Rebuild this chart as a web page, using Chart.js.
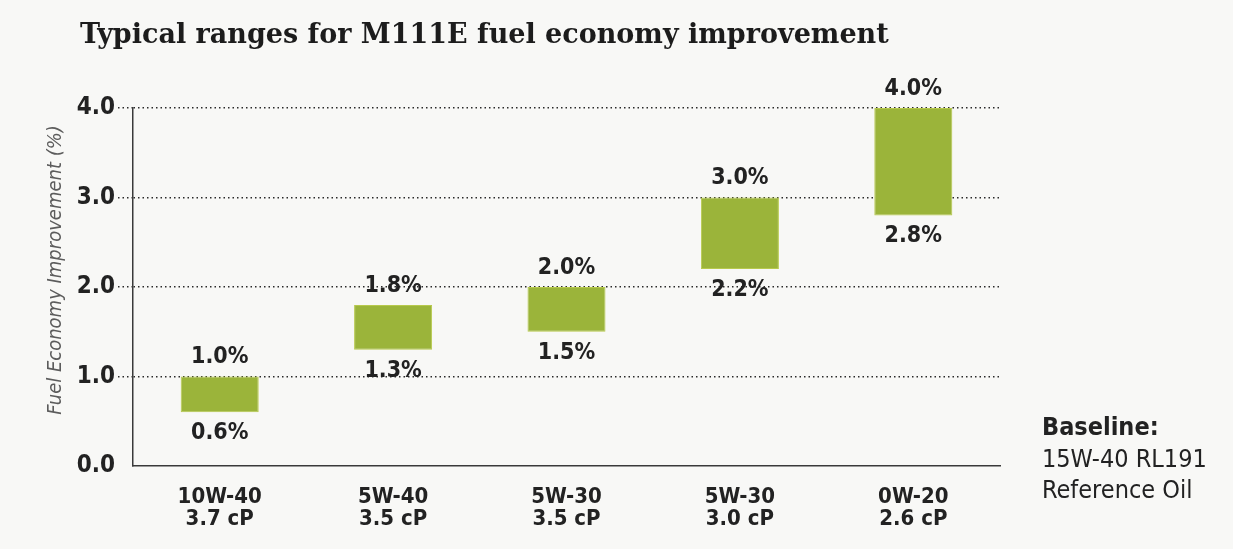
<!DOCTYPE html>
<html>
<head>
<meta charset="utf-8">
<script src="https://cdn.jsdelivr.net/npm/chart.js@4/dist/chart.umd.min.js"></script>
<style>
    html, body { margin: 0; padding: 0; background: #f8f8f6; }
    #wrap { width: 1233px; height: 549px; position: relative; }
</style>
</head>
<body>
<div id="wrap"><canvas id="chart" width="1233" height="549"></canvas></div>
<script>
const TITLE = 'Typical ranges for M111E fuel economy improvement';
const Y_TITLE = 'Fuel Economy Improvement (%)';
const OILS = ['10W-40', '5W-40', '5W-30', '5W-30', '0W-20'];
const VISCOSITY = ['3.7 cP', '3.5 cP', '3.5 cP', '3.0 cP', '2.6 cP'];
const LOW = [0.6, 1.3, 1.5, 2.2, 2.8];
const HIGH = [1.0, 1.8, 2.0, 3.0, 4.0];
const Y_TICKS = [0, 1, 2, 3, 4];
const BASELINE = ['Baseline:', '15W-40 RL191', 'Reference Oil'];

const NARROW = '"Liberation Sans Narrow", "DejaVu Sans Condensed", Arial, sans-serif';
const GREEN = '#9bb43a';
const INK = '#222222';

// labels above / below each bar plus title and the baseline note
const extraText = {
    id: 'extraText',
    afterDatasetsDraw(chart) {
        const ctx = chart.ctx;
        const meta = chart.getDatasetMeta(0);
        ctx.save();
        ctx.fillStyle = INK;
        ctx.textAlign = 'center';
        ctx.textBaseline = 'middle';
        ctx.font = 'bold 23px ' + NARROW;
        meta.data.forEach((bar, i) => {
            const top = Math.min(bar.y, bar.base);
            const bottom = Math.max(bar.y, bar.base);
            ctx.fillText(HIGH[i].toFixed(1) + '%', bar.x, top - 19);
            ctx.fillText(LOW[i].toFixed(1) + '%', bar.x, bottom + 21);
        });

        // title, shrunk until it fits its width in the original
        let size = 32;
        ctx.font = 'bold ' + size + 'px "DejaVu Serif", serif';
        while (ctx.measureText(TITLE).width > 810 && size > 10) {
            size -= 0.25;
            ctx.font = 'bold ' + size + 'px "DejaVu Serif", serif';
        }
        ctx.textAlign = 'left';
        ctx.textBaseline = 'alphabetic';
        ctx.fillStyle = '#1c1c1c';
        ctx.fillText(TITLE, 80, 43);

        // axis title
        ctx.save();
        ctx.translate(56, 270);
        ctx.rotate(-Math.PI / 2);
        ctx.textAlign = 'center';
        ctx.textBaseline = 'middle';
        ctx.fillStyle = '#5c5c5c';
        ctx.font = 'italic 20px ' + NARROW;
        ctx.fillText(Y_TITLE, 0, 0);
        ctx.restore();

        // baseline note
        ctx.textBaseline = 'middle';
        ctx.fillStyle = INK;
        ctx.font = 'bold 25px ' + NARROW;
        ctx.fillText(BASELINE[0], 1042, 428);
        ctx.font = '25px ' + NARROW;
        ctx.fillText(BASELINE[1], 1042, 460);
        ctx.fillText(BASELINE[2], 1042, 491);
        ctx.restore();
    }
};

new Chart(document.getElementById('chart'), {
    type: 'bar',
    data: {
        labels: OILS.map((oil, i) => [oil, VISCOSITY[i]]),
        datasets: [{
            data: LOW.map((low, i) => [low, HIGH[i]]),
            backgroundColor: GREEN,
            borderColor: '#b7c94c',
            borderWidth: 1,
            borderSkipped: false,
            categoryPercentage: 1,
            barPercentage: 0.45
        }]
    },
    plugins: [extraText],
    options: {
        responsive: false,
        animation: false,
        devicePixelRatio: 1,
        layout: {
            padding: { top: 108, right: 233, bottom: 0, left: 0 }
        },
        plugins: {
            legend: { display: false },
            tooltip: { enabled: false },
            title: { display: false }
        },
        scales: {
            x: {
                grid: { display: false, drawTicks: false },
                border: { display: true, color: '#3a3a3a', width: 1.5 },
                ticks: {
                    color: INK,
                    padding: 20,
                    font: { family: NARROW, size: 22, weight: 'bold', lineHeight: 1.0 }
                },
                afterFit(scale) { scale.height = 549 - 466; }
            },
            y: {
                min: 0,
                max: 4,
                afterBuildTicks(scale) {
                    scale.ticks = Y_TICKS.map(v => ({ value: v }));
                },
                grid: {
                    color: ctx => ctx.tick && ctx.tick.value === 0 ? 'rgba(0,0,0,0)' : '#2a2a2a',
                    lineWidth: 1.5,
                    tickLength: 15,
                    drawTicks: true,
                    tickBorderDash: [1.5, 3],
                    tickColor: ctx => ctx.tick && ctx.tick.value === 0 ? 'rgba(0,0,0,0)' : '#2a2a2a'
                },
                border: { display: true, color: '#3a3a3a', width: 1.5, dash: [1.5, 3] },
                ticks: {
                    color: INK,
                    padding: 3,
                    font: { family: NARROW, size: 24, weight: 'bold' },
                    callback: v => v.toFixed(1)
                },
                afterFit(scale) { scale.width = 133; }
            }
        }
    }
});
</script>
</body>
</html>
